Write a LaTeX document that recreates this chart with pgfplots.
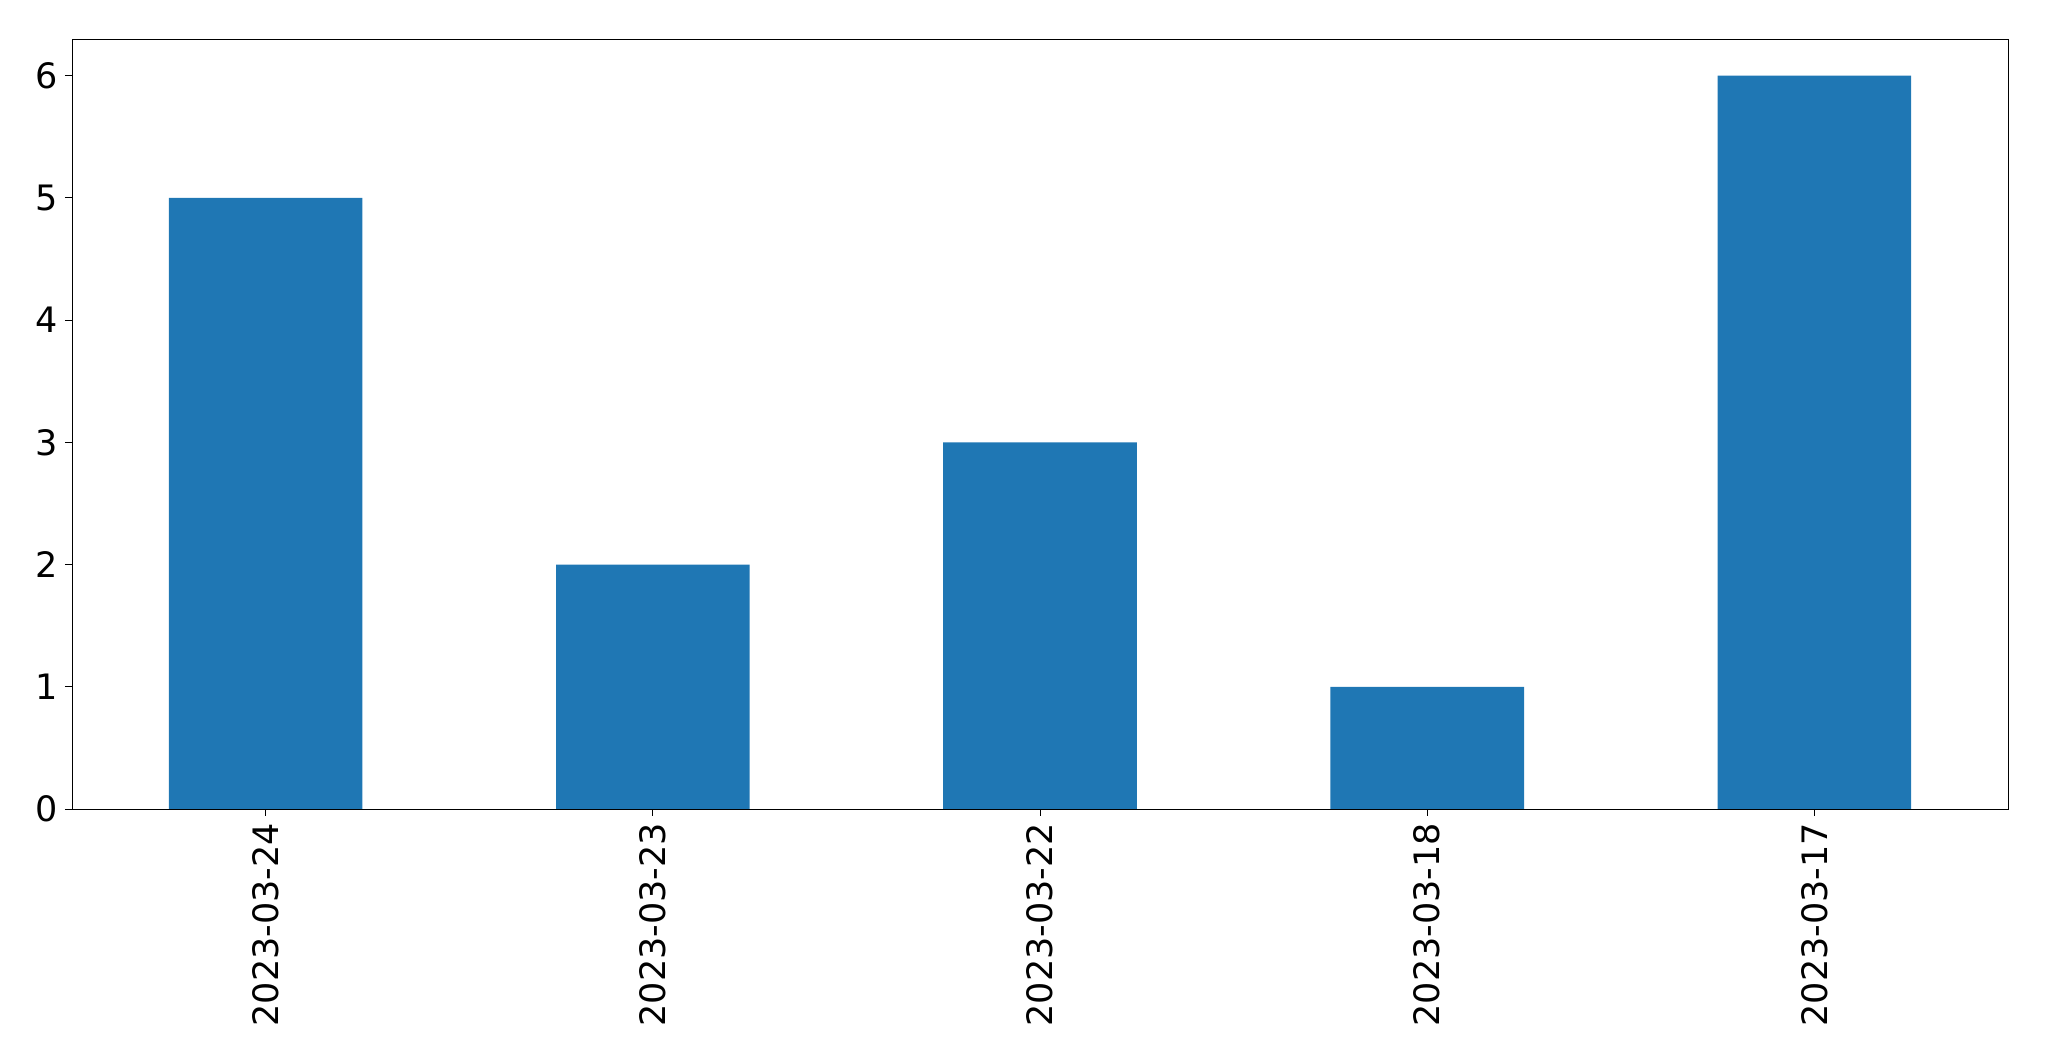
\documentclass[border=0pt]{standalone}
\usepackage{pgfplots}
\pgfplotsset{compat=1.18}
\usepackage{fontspec}
\setmainfont{DejaVu Sans}
\definecolor{mplblue}{HTML}{1F77B4}
\begin{document}
\begin{tikzpicture}
\begin{axis}[
  scale only axis,
  width=968pt, height=385pt,
  xmin=-0.5, xmax=4.5, ymin=0, ymax=6.3,
  xtick={0,1,2,3,4},
  xticklabels={2023-03-24,2023-03-23,2023-03-22,2023-03-18,2023-03-17},
  ytick={0,1,2,3,4,5,6},
  tick align=outside,
  major tick length=3.5pt,
  tick style={black, line width=0.4pt},
  axis line style={line width=0.4pt},
  xtick pos=bottom, ytick pos=left,
  x tick label style={rotate=90, anchor=east, font=\fontsize{17.5}{21}\selectfont},
  y tick label style={font=\fontsize{17.5}{21}\selectfont},
  /pgf/number format/assume math mode=true,
]
\addplot[ybar, bar width=0.5, fill=mplblue, draw=none, bar shift=0pt] coordinates {
 (0,5) (1,2) (2,3) (3,1) (4,6)
};
\end{axis}
\path (current axis.south west) ++(-36pt,-126pt) coordinate (bl);
\path (current axis.north east) ++(20.5pt,19.5pt) coordinate (tr);
\useasboundingbox (bl) rectangle (tr);
\end{tikzpicture}
\end{document}
